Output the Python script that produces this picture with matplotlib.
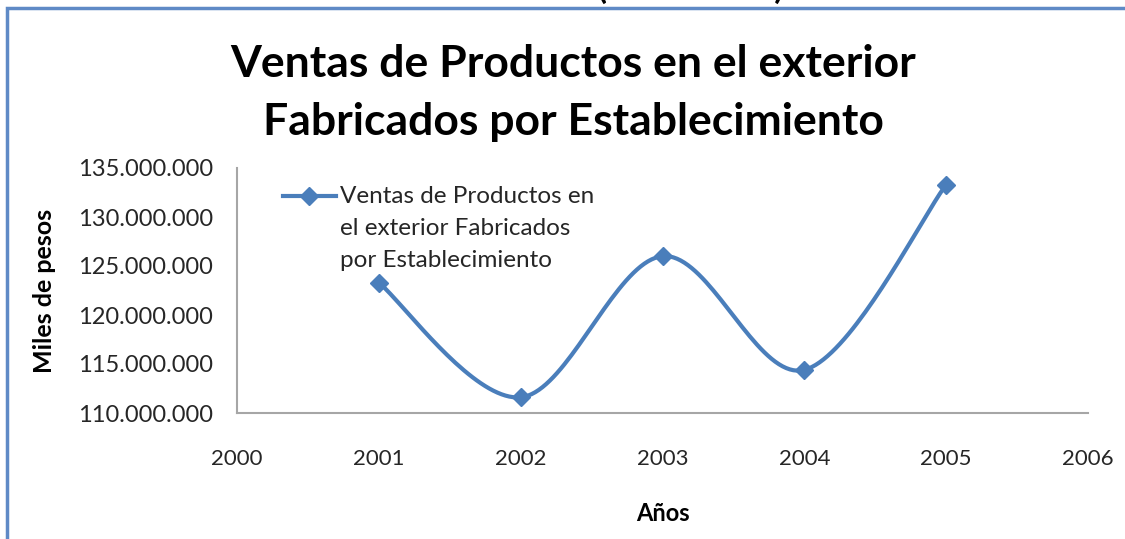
import numpy as np
import matplotlib
matplotlib.use("Agg")
import matplotlib.pyplot as plt
from matplotlib.patches import Rectangle
from matplotlib.ticker import FuncFormatter, MultipleLocator

plt.rcParams['font.family'] = ['Lato', 'DejaVu Sans']

years = [2001, 2002, 2003, 2004, 2005]
ventas = [123300000, 111600000, 126000000, 114400000, 133300000]
series_label = "Ventas de Productos en\nel exterior Fabricados\npor Establecimiento"
title = "Ventas de Productos en el exterior\nFabricados por Establecimiento"
heading = "Establecimiento (1991-2005)"
xlabel = "Años"
ylabel = "Miles de pesos"

LINE_COLOR = "#4a7ebb"


def smooth_curve(x, y, steps=40):
    """Cubic Bezier smoothing through every point (Catmull-Rom style)."""
    x = np.asarray(x, float)
    y = np.asarray(y, float)
    px, py = [], []
    n = len(x)
    for i in range(n - 1):
        x0, y0 = (x[i - 1], y[i - 1]) if i > 0 else (x[i], y[i])
        x3, y3 = (x[i + 2], y[i + 2]) if i + 2 < n else (x[i + 1], y[i + 1])
        c1x = x[i] + (x[i + 1] - x0) / 6
        c1y = y[i] + (y[i + 1] - y0) / 6
        c2x = x[i + 1] - (x3 - x[i]) / 6
        c2y = y[i + 1] - (y3 - y[i]) / 6
        t = np.linspace(0, 1, steps)
        bx = (1 - t) ** 3 * x[i] + 3 * (1 - t) ** 2 * t * c1x + 3 * (1 - t) * t ** 2 * c2x + t ** 3 * x[i + 1]
        by = (1 - t) ** 3 * y[i] + 3 * (1 - t) ** 2 * t * c1y + 3 * (1 - t) * t ** 2 * c2y + t ** 3 * y[i + 1]
        px.extend(bx)
        py.extend(by)
    return np.array(px), np.array(py)


W, H = 1125, 539
fig = plt.figure(figsize=(W / 100, H / 100), dpi=100)
fig.patch.set_facecolor("white")

# chart-area frame
fig.patches.append(Rectangle((7 / W, -0.1), 1.2, 1 - 8 / H + 0.1,
                             transform=fig.transFigure, fill=False,
                             edgecolor="#5f8ac6", linewidth=2.5))

# heading above the chart area (runs past the top edge)
fig.text(0.505, 1 + 1 / H, heading, ha="center", va="baseline",
         fontsize=24, color="black", fontweight="bold")

fig.text(573 / W, 1 - 44 / H, title, ha="center", va="top",
         fontsize=32, fontweight="bold", linespacing=1.55)

ax = fig.add_axes([237 / W, 1 - 413 / H, (1088 - 237) / W, (413 - 168) / H])

sx, sy = smooth_curve(years, ventas)
ax.plot(sx, sy, color=LINE_COLOR, linewidth=3, solid_capstyle="round")
ax.plot(years, ventas, linestyle="none", marker="D", markersize=9.5,
        color=LINE_COLOR)

ax.set_xlim(2000, 2006)
ax.set_ylim(110000000, 135000000)
ax.xaxis.set_major_locator(MultipleLocator(1))
ax.yaxis.set_major_locator(MultipleLocator(5000000))
ax.yaxis.set_major_formatter(FuncFormatter(lambda v, p: f"{int(v):,}".replace(",", ".")))

for side in ("top", "right"):
    ax.spines[side].set_visible(False)
for side in ("left", "bottom"):
    ax.spines[side].set_color("#a6a6a6")
    ax.spines[side].set_linewidth(1.5)

ax.tick_params(axis="both", length=0, colors="#262626")
ax.tick_params(axis="y", pad=17, labelsize=17)
ax.tick_params(axis="x", pad=26, labelsize=16)

ax.set_xlabel(xlabel, fontsize=17, fontweight="bold", labelpad=24)
ax.set_ylabel(ylabel, fontsize=18, fontweight="bold", labelpad=16)

# series key: line with a diamond, text wrapped over three lines
key_y = (413 - 196) / (413 - 168)
ax.plot([0.054, 0.085, 0.116], [key_y] * 3, transform=ax.transAxes,
        color=LINE_COLOR, linewidth=3, marker="D", markersize=9.5,
        markevery=[1], clip_on=False)
ax.text(0.121, (413 - 186) / (413 - 168), series_label, transform=ax.transAxes,
        ha="left", va="top", fontsize=17.5, color="#262626",
        linespacing=1.65)

fig.savefig("out.png", dpi=100)
